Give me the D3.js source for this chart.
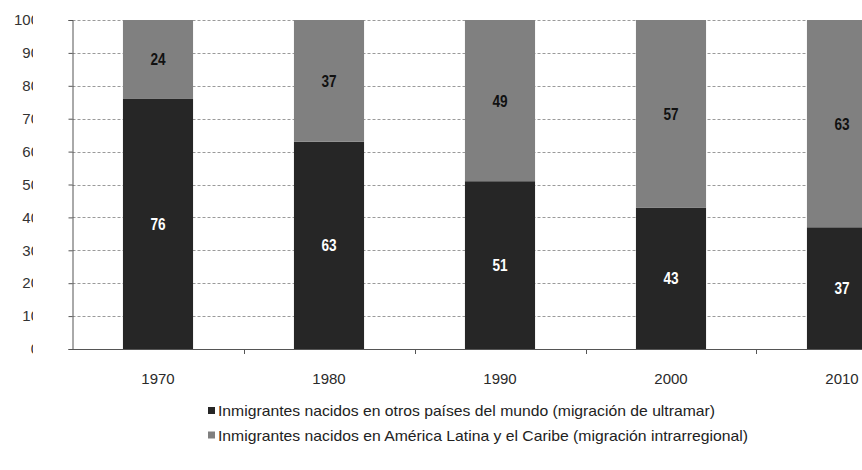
<!DOCTYPE html>
<html>
<head>
<meta charset="utf-8">
<script src="https://cdn.jsdelivr.net/npm/d3@7"></script>
<style>
  body { margin: 0; background: #fff; }
  svg { display: block; }
</style>
</head>
<body>
<div id="chart"></div>
<script>
// ------- Data -------
const years = ["1970", "1980", "1990", "2000", "2010"];
const ultramar = [76, 63, 51, 43, 37];
const intrarregional = [24, 37, 49, 57, 63];
const yTicks = [0, 10, 20, 30, 40, 50, 60, 70, 80, 90, 100];
const seriesNames = [
  "Inmigrantes nacidos en otros países del mundo (migración de ultramar)",
  "Inmigrantes nacidos en América Latina y el Caribe (migración intrarregional)"
];
const colors = ["#262626", "#808080"];

const width = 862, height = 470;
const margin = {left: 72.5, top: 20, bottom: 121};
const plotH = height - margin.top - margin.bottom;
const FONT = "Liberation Sans, Arial, sans-serif";
const narrow = 0.8; // horizontal squeeze to mimic Arial Narrow
const legendTextWidth = [497, 530]; // text run widths in the source

let svg = d3.select("#chart").append("svg")
    .attr("width", width)
    .attr("height", height);

// band step ~171px, plot continues past the right edge (cropped like the original)
let xScale = d3.scaleBand()
    .domain(years)
    .range([margin.left, margin.left + 171 * years.length])
    .paddingInner(0.59)
    .paddingOuter(0.295);

let yScale = d3.scaleLinear()
    .domain([0, 100])
    .range([margin.top + plotH, margin.top]);

// ------- Gridlines -------
svg.append("g")
   .selectAll("line")
   .data(yTicks.filter(d => d > 0))
   .join("line")
   .attr("x1", margin.left)
   .attr("x2", width)
   .attr("y1", d => Math.round(yScale(d)) + 0.5)
   .attr("y2", d => Math.round(yScale(d)) + 0.5)
   .attr("stroke", "#9a9a9a")
   .attr("stroke-width", 1)
   .attr("stroke-dasharray", "3,2");

// ------- Bars -------
let stackData = years.map((y, i) => ({year: y, ultramar: ultramar[i], intrarregional: intrarregional[i]}));
let stack = d3.stack().keys(["ultramar", "intrarregional"])(stackData);

let layers = svg.append("g")
   .selectAll("g")
   .data(stack)
   .join("g")
   .attr("fill", (d, i) => colors[i]);

layers.selectAll("rect")
   .data(d => d)
   .join("rect")
   .attr("x", d => xScale(d.data.year))
   .attr("width", xScale.bandwidth())
   .attr("y", d => yScale(d[1]))
   .attr("height", d => yScale(d[0]) - yScale(d[1]));

// value labels
layers.each(function(layer, li){
  d3.select(this).selectAll("g")
    .data(layer)
    .join("g")
    .attr("transform", d => `translate(${xScale(d.data.year) + xScale.bandwidth() / 2},${(yScale(d[0]) + yScale(d[1])) / 2}) scale(${narrow},1)`)
    .append("text")
    .attr("dy", "0.35em")
    .attr("text-anchor", "middle")
    .attr("font-family", FONT)
    .attr("font-weight", "bold")
    .attr("font-size", 17)
    .attr("fill", li == 0 ? "#fff" : "#111")
    .text(d => d[1] - d[0]);
});

// ------- Axes -------
let yAxis = svg.append("g")
   .attr("transform", `translate(${margin.left},0)`)
   .call(d3.axisLeft(yScale).tickValues(yTicks).tickSize(4).tickFormat(""));
yAxis.select(".domain").attr("stroke", "#555");
yAxis.selectAll(".tick line").attr("stroke", "#555");

// tick labels are cut off at the left like in the source image
svg.append("clipPath").attr("id", "yclip")
   .append("rect").attr("x", 0).attr("y", 0).attr("width", 33).attr("height", height);
svg.append("g")
   .attr("clip-path", "url(#yclip)")
   .selectAll("text")
   .data(yTicks)
   .join("text")
   .attr("x", 39)
   .attr("y", d => yScale(d))
   .attr("dy", "0.35em")
   .attr("text-anchor", "end")
   .attr("font-family", FONT)
   .attr("font-size", 15)
   .attr("fill", "#333")
   .text(d => d);

let xAxis = svg.append("g")
   .attr("transform", `translate(0,${margin.top + plotH})`);
xAxis.append("line")
   .attr("x1", margin.left).attr("x2", width)
   .attr("y1", 0.5).attr("y2", 0.5)
   .attr("stroke", "#555");
xAxis.selectAll(".sep")
   .data(years.slice(0, -1))
   .join("line")
   .attr("class", "sep")
   .attr("x1", d => Math.round(xScale(d) + xScale.bandwidth() / 2 + xScale.step() / 2) + 0.5)
   .attr("x2", d => Math.round(xScale(d) + xScale.bandwidth() / 2 + xScale.step() / 2) + 0.5)
   .attr("y1", 0).attr("y2", 5)
   .attr("stroke", "#555");
xAxis.selectAll("text")
   .data(years)
   .join("text")
   .attr("x", d => xScale(d) + xScale.bandwidth() / 2)
   .attr("y", 29.5)
   .attr("dy", "0.35em")
   .attr("text-anchor", "middle")
   .attr("font-family", FONT)
   .attr("font-size", 15)
   .attr("fill", "#2a2a2a")
   .text(d => d);

// ------- Legend -------
let legend = svg.append("g")
   .selectAll("g")
   .data(seriesNames)
   .join("g")
   .attr("transform", (d, i) => `translate(208,${411 + i * 24.5})`);
legend.append("rect")
   .attr("x", 0).attr("y", -4)
   .attr("width", 7).attr("height", 7)
   .attr("fill", (d, i) => colors[i]);
legend.append("text")
   .attr("x", 10)
   .attr("dy", "0.35em")
   .attr("font-family", FONT)
   .attr("font-size", 15)
   .attr("fill", "#222")
   .attr("textLength", (d, i) => legendTextWidth[i])
   .attr("lengthAdjust", "spacingAndGlyphs")
   .text(d => d);
</script>
</body>
</html>
